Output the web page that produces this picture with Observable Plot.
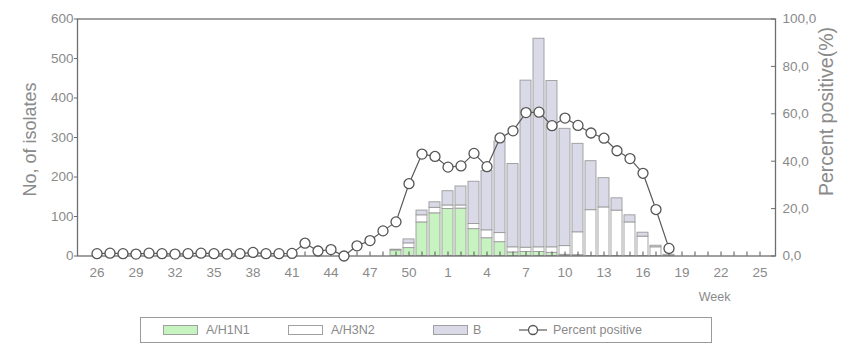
<!DOCTYPE html>
<html>
<head>
<meta charset="utf-8">
<script src="https://cdn.jsdelivr.net/npm/d3@7"></script>
<script src="https://cdn.jsdelivr.net/npm/@observablehq/plot@0.6"></script>
<style>
  body { margin: 0; background: #fff; font-family: "Liberation Sans", Arial, sans-serif; }
  #wrap { position: relative; width: 842px; height: 346px; overflow: hidden; }
  #chart { position: absolute; left: 0; top: 0; }
  #legend { position: absolute; left: 140px; top: 317px; width: 572px; height: 26px; border: 1px solid #9a9a9a; box-sizing: border-box; }
  .item { position: absolute; top: 0; height: 24px; display: flex; align-items: center; font-size: 12.5px; color: #8a8a8a; white-space: nowrap; }
  .sw { position: absolute; top: 7px; width: 35px; height: 10px; border: 1px solid #a0a0a0; box-sizing: border-box; }
</style>
</head>
<body>
<div id="wrap">
  <div id="chart"></div>
  <div id="legend"></div>
</div>
<script>
// ---- data ----
const weeks = ["26","27","28","29","30","31","32","33","34","35","36","37","38","39","40","41","42","43","44","45","46","47","48","49","50","51","52",
               "1","2","3","4","5","6","7","8","9","10","11","12","13","14","15","16","17","18","19","20","21","22","23","24","25"];

const seriesNames = ["A/H1N1", "A/H3N2", "B"];
const seriesColors = ["#c6f3bf", "#ffffff", "#d9d9e8"];

// number of isolates per week
const h1n1 = [0,0,0,0,0,0,0,0,0,0,0,0,0,0,0,0,0,0,0,0,0,0,0,14,20,85,108,
              119,120,68,45,35,9,10,10,8,3,2,0,0,0,0,0,0,0,0,0,0,0,0,0,0];
const h3n2 = [0,0,0,0,0,0,0,0,0,0,0,0,0,0,0,0,0,0,0,0,0,0,0,0,12,18,14,
              9,8,13,20,23,13,11,12,14,22,58,116,123,115,85,49,22,3,0,0,0,0,0,0,0];
const bType = [0,0,0,0,0,0,0,0,0,0,0,0,0,0,0,0,0,0,0,0,0,0,0,2,10,12,14,
              36,48,107,150,232,211,423,528,421,297,224,124,74,31,18,10,4,0,0,0,0,0,0,0,0];

// percent positive (%)
const pctPositive = [1,1.2,1,0.8,1.2,1,0.8,1,1.2,1,0.8,1,1.5,1,1,1.1,5.4,2.1,2.7,0,4.3,6.5,10.6,14.4,30.5,43,42,
                     37.5,38,43.3,37.7,49.8,52.8,60.5,60.7,55,58.2,55.1,51.9,49.7,44.4,41.1,34.9,19.6,3.2,null,null,null,null,null,null,null];

// axes
const xTickLabels = ["26","29","32","35","38","41","44","47","50","1","4","7","10","13","16","19","22","25"];
const leftTicks = [0,100,200,300,400,500,600];
const pctTicks = [0,20,40,60,80,100];
const pctTickLabels = ["0,0","20,0","40,0","60,0","80,0","100,0"];
const leftTitle = "No, of isolates";
const rightTitle = "Percent positive(%)";
const xTitle = "Week";
const legendLabels = ["A/H1N1", "A/H3N2", "B", "Percent positive"];

// ---- build tables ----
const seriesValues = [h1n1, h3n2, bType];
const barRows = [];
weeks.forEach((w, i) => {
  seriesNames.forEach((s, k) => {
    if (seriesValues[k][i] > 0) barRows.push({week: w, type: s, value: seriesValues[k][i]});
  });
});
const pctScale = 600 / 100; // right axis 0-100 mapped onto left 0-600
const lineRows = weeks.map((w, i) => ({week: w, pct: pctPositive[i]}));

const W = 842, H = 312;
const mTop = 18.5, mBottom = 56.5, mLeft = 77, mRight = 67;
const frameW = W - mLeft - mRight, frameH = H - mTop - mBottom;
const textGray = "#8a8a8a";
const lineGray = "#6e6e6e";

const chart = Plot.plot({
  width: W,
  height: H,
  marginTop: mTop,
  marginBottom: mBottom,
  marginLeft: mLeft,
  marginRight: mRight,
  style: { fontFamily: "'Liberation Sans', Arial, sans-serif", color: textGray, background: "#fff" },
  x: { type: "band", domain: weeks, range: [80.3, 776.6], padding: 0.14 },
  y: { domain: [0, 600] },
  color: { domain: seriesNames, range: seriesColors },
  marks: [
    Plot.barY(barRows, { x: "week", y: "value", fill: "type", stroke: "#9b9b9b", strokeWidth: 0.9 }),
    Plot.frame({ stroke: lineGray, strokeWidth: 1.3 }),
    // inward week ticks along the bottom
    Plot.tickX(weeks, { x: d => d, stroke: "#555", strokeWidth: 1, insetTop: frameH - 4 }),
    // inward ticks on the right axis
    Plot.tickY(pctTicks, { y: d => d * pctScale, stroke: lineGray, strokeWidth: 1, insetLeft: frameW - 4 }),
    Plot.axisX(xTickLabels, { tickSize: 0, tickPadding: 11, fontSize: 13.5, fill: textGray, label: null }),
    Plot.axisY(leftTicks, { anchor: "left", tickSize: 3, tickPadding: 1, fontSize: 13.5, fill: textGray, stroke: lineGray, label: null }),
    Plot.axisY(pctTicks.map(d => d * pctScale), { anchor: "right", tickSize: 0, tickPadding: 7, fontSize: 13.5, fill: textGray, label: null,
      tickFormat: d => pctTickLabels[pctTicks.indexOf(d / pctScale)] }),
    Plot.line(lineRows.filter(d => d.pct != null), { x: "week", y: d => d.pct * pctScale, stroke: "#5a5a5a", strokeWidth: 1.2 }),
    Plot.dot(lineRows.filter(d => d.pct != null), { x: "week", y: d => d.pct * pctScale, r: 5, fill: "#fff", stroke: "#555", strokeWidth: 1.3 }),
    Plot.text([leftTitle], { frameAnchor: "left", textAnchor: "middle", dx: -47, dy: 2, rotate: -90, fontSize: 18, fill: textGray }),
    Plot.text([rightTitle], { frameAnchor: "right", textAnchor: "middle", dx: 51, dy: -26, rotate: -90, fontSize: 19.5, fill: textGray }),
    Plot.text([xTitle], { frameAnchor: "bottom-right", dx: -45, dy: 45, textAnchor: "end", fontSize: 12.5, fill: textGray })
  ]
});
document.getElementById("chart").appendChild(chart);

// ---- legend ----
const legend = document.getElementById("legend");
const swLeft = [22, 147, 292];
const txtLeft = [65, 190, 332, 412];
seriesNames.forEach((s, k) => {
  const sw = document.createElement("div");
  sw.className = "sw";
  sw.style.left = swLeft[k] + "px";
  sw.style.background = seriesColors[k];
  legend.appendChild(sw);
});
legendLabels.forEach((t, k) => {
  const d = document.createElement("div");
  d.className = "item";
  d.style.left = txtLeft[k] + "px";
  d.textContent = t;
  legend.appendChild(d);
});
const sym = document.createElementNS("http://www.w3.org/2000/svg", "svg");
sym.setAttribute("width", 32); sym.setAttribute("height", 24);
sym.style.position = "absolute"; sym.style.left = "376px"; sym.style.top = "0px";
sym.innerHTML = '<line x1="2" y1="12" x2="30" y2="12" stroke="#5a5a5a" stroke-width="1.2"/><circle cx="16" cy="12" r="4.5" fill="#fff" stroke="#555" stroke-width="1.3"/>';
legend.appendChild(sym);
</script>
</body>
</html>
